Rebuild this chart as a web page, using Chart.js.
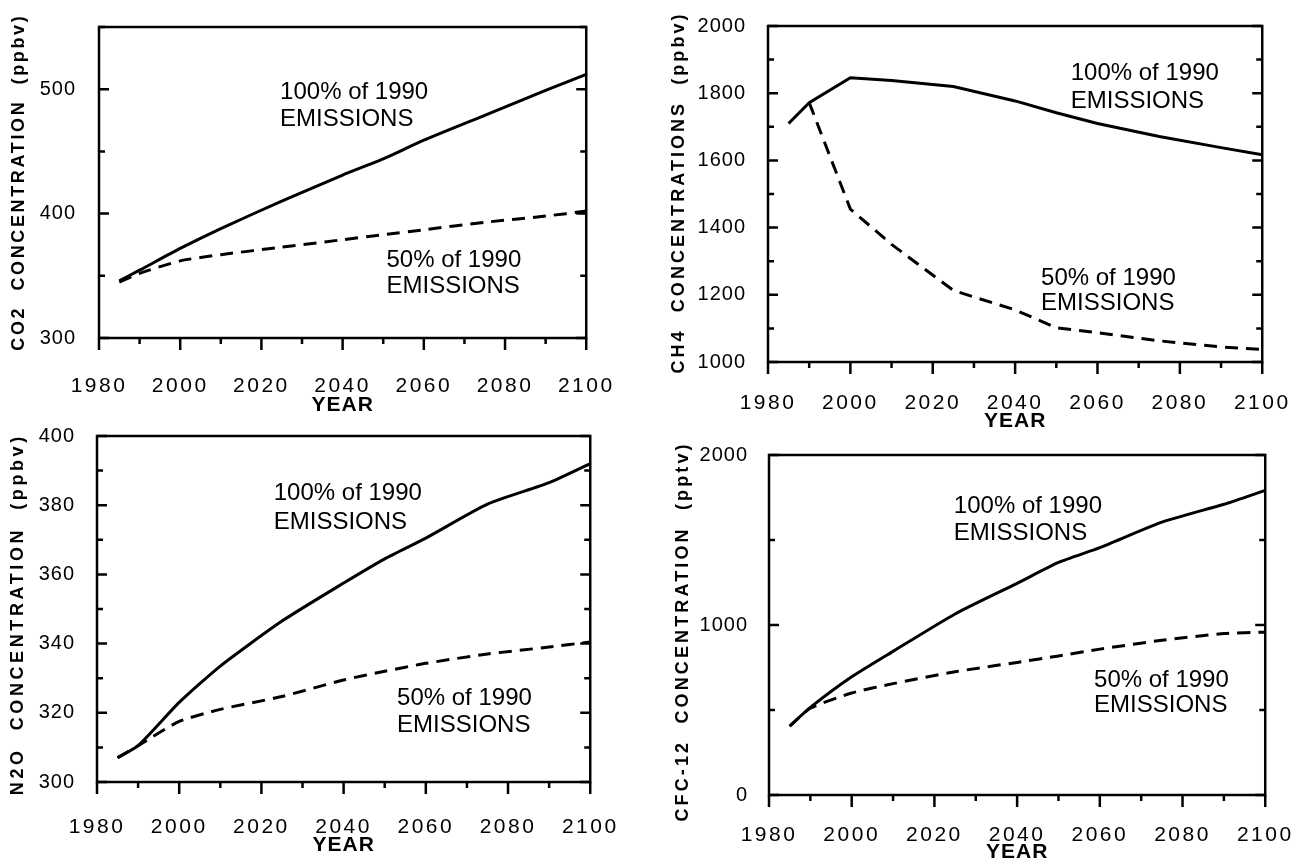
<!DOCTYPE html>
<html><head><meta charset="utf-8">
<script src="https://cdn.jsdelivr.net/npm/chart.js@4.4.1/dist/chart.umd.min.js"></script>
<style>
html,body{margin:0;padding:0;background:#fff;width:1312px;height:867px;overflow:hidden;position:relative}
canvas{position:absolute;background:transparent}
</style></head><body>
<canvas id="c1"></canvas><canvas id="c2"></canvas><canvas id="c3"></canvas><canvas id="c4"></canvas>
<script>
// ---- data ----
const years = [1985, 1990, 2000, 2010, 2025, 2040, 2050, 2060, 2075, 2090, 2100];
const co2Full = [346, 354.5, 372, 388, 410, 431, 444, 459, 479, 499, 512];
const co2Half = [345, 352, 362, 367, 373, 379, 383, 387, 393, 398, 402];
const ch4Full = [1710, 1772, 1846, 1838, 1820, 1777, 1742, 1710, 1671, 1638, 1617];
const ch4Half = [null, 1772, 1455, 1350, 1213, 1155, 1102, 1087, 1063, 1045, 1037];
const n2oFull = [307, 310.5, 323, 333.5, 346.5, 357.5, 364.5, 370.5, 380.3, 386.5, 392];
const n2oHalf = [307, 310.5, 317.5, 321, 324.7, 329.5, 332, 334.3, 337, 339, 340.5];
const cfcFull = [405, 515, 695, 845, 1065, 1245, 1368, 1455, 1605, 1710, 1792];
const cfcHalf = [405, 510, 600, 655, 725, 780, 818, 858, 910, 950, 958];

const xTickYears = [1980, 2000, 2020, 2040, 2060, 2080, 2100];
const annoText = ["100% of 1990", "EMISSIONS", "50% of 1990", "EMISSIONS"];
const co2AnnoX = [2024.6, 2024.6, 2050.8, 2050.8];
const co2AnnoY = [498.8, 477.3, 364, 343];
const ch4AnnoX = [2053.5, 2053.5, 2046.3, 2046.3];
const ch4AnnoY = [1864.6, 1781, 1254, 1179];
const n2oAnnoX = [2023, 2023, 2053, 2053];
const n2oAnnoY = [384.1, 375.5, 324.8, 317];
const cfcAnnoX = [2024.7, 2024.7, 2058.6, 2058.6];
const cfcAnnoY = [1711, 1549, 688, 538];

const yTitles = ["CO2  CONCENTRATION  (ppbv)", "CH4  CONCENTRATIONS  (ppbv)",
                 "N2O  CONCENTRATION  (ppbv)", "CFC-12  CONCENTRATION  (pptv)"];
const xTitle = "YEAR";

// ---- rendering ----
const FAMILY = "'Liberation Sans', Arial, Helvetica, sans-serif";

const framePlugin = {
  id: 'frame',
  beforeDraw(chart) { chart.ctx.letterSpacing = '1px'; },
  afterDatasetsDraw(chart) { chart.ctx.letterSpacing = '2.5px'; },
  afterDraw(chart, args, opts) {
    const ctx = chart.ctx, a = chart.chartArea;
    const xs = chart.scales.x, ys = chart.scales.y;
    ctx.save();
    ctx.letterSpacing = '0px';
    ctx.strokeStyle = '#000';
    ctx.lineWidth = 2.5;
    ctx.strokeRect(a.left, a.top, a.right - a.left, a.bottom - a.top);
    ctx.beginPath();
    ys.ticks.forEach(t => {
      const p = ys.getPixelForValue(t.value);
      const len = (t.label !== '' ? 10 : 6);
      ctx.moveTo(a.left, p); ctx.lineTo(a.left + len, p);
      ctx.moveTo(a.right, p); ctx.lineTo(a.right - len, p);
    });
    xs.ticks.forEach(t => {
      const p = xs.getPixelForValue(t.value);
      const len = (t.label !== '' ? 12 : 6);
      ctx.moveTo(p, a.bottom); ctx.lineTo(p, a.bottom + len);
    });
    ctx.stroke();

    // annotations
    ctx.fillStyle = '#000';
    ctx.font = '24px ' + FAMILY;
    ctx.textAlign = 'left';
    ctx.textBaseline = 'alphabetic';
    const cap = 24 * 0.716;
    opts.annoText.forEach((txt, i) => {
      const px = xs.getPixelForValue(opts.annoX[i]);
      const py = ys.getPixelForValue(opts.annoY[i]);
      ctx.fillText(txt, px, py + cap / 2);
    });

    // y title
    ctx.font = 'bold 18px ' + FAMILY;
    ctx.letterSpacing = '0px';
    const w0 = ctx.measureText(opts.title).width;
    const sp = (opts.titleLen - w0) / opts.title.length;
    ctx.letterSpacing = sp.toFixed(2) + 'px';
    const capT = 18 * 0.716;
    ctx.translate(opts.titleX + capT / 2, opts.titleY);
    ctx.rotate(-Math.PI / 2);
    ctx.textAlign = 'center';
    ctx.fillText(opts.title, sp / 2, 0);
    ctx.restore();
  }
};

function pts(vals) {
  return years.map((yr, i) => ({x: yr, y: vals[i]})).filter(p => p.y !== null);
}

function makePanel(id, rect, area, yMin, yMax, yStep, yLabelEvery, full, half,
                   annoX, annoY, title, titlePos, xLabelPad, yLabelPad, tension) {
  const cv = document.getElementById(id);
  cv.width = rect.w; cv.height = rect.h;
  cv.style.left = rect.x + 'px'; cv.style.top = rect.y + 'px';
  cv.style.width = rect.w + 'px'; cv.style.height = rect.h + 'px';
  new Chart(cv, {
    type: 'line',
    data: {
      datasets: [
        {data: pts(full), borderColor: '#000', borderWidth: 3, pointRadius: 0, tension: tension, fill: false},
        {data: pts(half), borderColor: '#000', borderWidth: 3, borderDash: [13, 8], pointRadius: 0, tension: tension, fill: false}
      ]
    },
    plugins: [framePlugin],
    options: {
      responsive: false, animation: false, devicePixelRatio: 1,
      layout: {autoPadding: false,
        padding: {top: area.T - rect.y, right: rect.x + rect.w - area.R, left: 0, bottom: 0}},
      plugins: {
        legend: {display: false}, tooltip: {enabled: false},
        frame: {annoText: annoText, annoX: annoX, annoY: annoY, title: title,
                titleX: titlePos.x - rect.x, titleY: titlePos.y - rect.y, titleLen: titlePos.len}
      },
      scales: {
        x: {
          type: 'linear', min: 1980, max: 2100,
          grid: {display: false}, border: {display: false},
          afterFit: s => { s.height = rect.y + rect.h - area.B; },
          ticks: {
            z: 1, stepSize: 10, autoSkip: false, maxRotation: 0, minRotation: 0,
            padding: xLabelPad, color: '#000', font: {family: FAMILY, size: 21},
            callback: v => xTickYears.includes(v) ? String(v) : ''
          },
          title: {display: true, text: xTitle, color: '#000', padding: {top: 0, bottom: 0},
                  font: {family: FAMILY, size: 21, weight: 'bold'}}
        },
        y: {
          type: 'linear', min: yMin, max: yMax,
          grid: {display: false}, border: {display: false},
          afterFit: s => { s.width = area.L - rect.x; },
          ticks: {
            stepSize: yStep, autoSkip: false, padding: yLabelPad, color: '#000',
            font: {family: FAMILY, size: 20},
            callback: v => (Math.abs(v % yLabelEvery) < 1e-6) ? String(v) : ''
          },
          title: {display: false}
        }
      }
    }
  });
}

makePanel('c1', {x: 0, y: 0, w: 637, h: 418}, {L: 99, T: 6, R: 597, B: 338},
  300, 550, 50, 100, co2Full, co2Half, co2AnnoX, co2AnnoY, yTitles[0],
  {x: 17.5, y: 183.5, len: 337}, 27.4, 15, 0.2);
makePanel('c2', {x: 650, y: 0, w: 656, h: 434}, {L: 768, T: 15, R: 1266, B: 362},
  1000, 2000, 100, 200, ch4Full, ch4Half, ch4AnnoX, ch4AnnoY, yTitles[1],
  {x: 678, y: 194, len: 362}, 20.4, 14, 0);
makePanel('c3', {x: 0, y: 410, w: 638, h: 448}, {L: 97, T: 423, R: 598, B: 782},
  300, 400, 10, 20, n2oFull, n2oHalf, n2oAnnoX, n2oAnnoY, yTitles[2],
  {x: 16.5, y: 616, len: 362}, 24.4, 14, 0.2);
makePanel('c4', {x: 650, y: 430, w: 658, h: 435}, {L: 769, T: 449, R: 1268, B: 795},
  0, 2000, 500, 1000, cfcFull, cfcHalf, cfcAnnoX, cfcAnnoY, yTitles[3],
  {x: 682, y: 633, len: 380}, 19.4, 13, 0.2);
</script>
</body></html>
